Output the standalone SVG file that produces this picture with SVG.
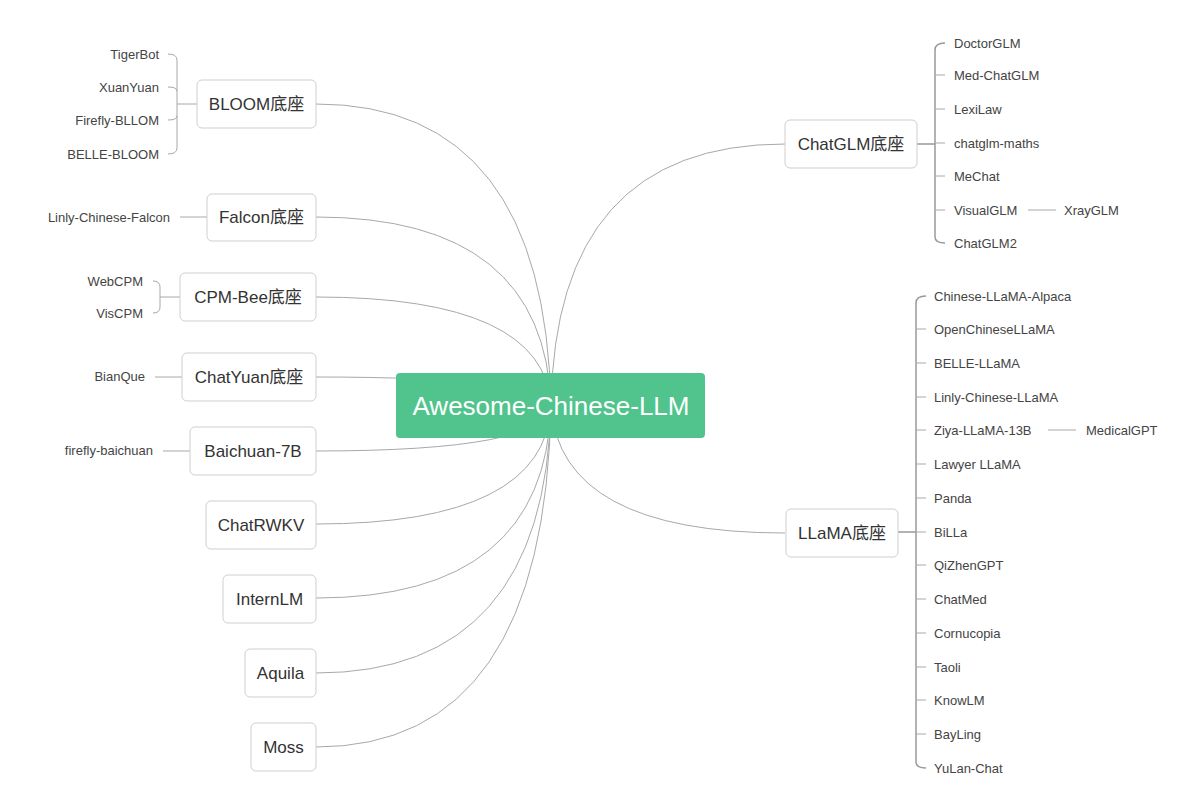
<svg xmlns="http://www.w3.org/2000/svg" width="1197" height="812" viewBox="0 0 1197 812">
<style>
.bg{fill:#ffffff}
.node rect{fill:#ffffff;stroke:#cfcfcf;stroke-width:1}
.node text{font-family:"Liberation Sans","Noto Sans CJK SC",sans-serif;font-size:17px;fill:#333333;text-anchor:middle;dominant-baseline:central}
.root rect{fill:#50c48c;stroke:none}
.root text{font-family:"Liberation Sans","Noto Sans CJK SC",sans-serif;font-size:26px;fill:#ffffff;text-anchor:middle;dominant-baseline:central}
.leaf{font-family:"Liberation Sans","Noto Sans CJK SC",sans-serif;font-size:13px;fill:#444444;dominant-baseline:central}
.r{text-anchor:end}
.c path,.c line{fill:none;stroke:#a8a8a8;stroke-width:1}
.c .dk{stroke:#999999;stroke-width:1.5}
</style>
<rect class="bg" width="1197" height="812"/>
<g id="connectors" class="c">
<path d="M316,104 Q545,104 551,406"/>
<path d="M316,217 Q545,217 551,406"/>
<path d="M316,297 Q545,297 551,406"/>
<path d="M316,377 Q545,377 551,406"/>
<path d="M316,451 Q545,451 551,406"/>
<path d="M316,524 Q545,524 551,406"/>
<path d="M316,598 Q545,598 551,406"/>
<path d="M316,673 Q545,673 551,406"/>
<path d="M316,747 Q545,747 551,406"/>
<path d="M785,144 Q555,144 551,406"/>
<path d="M785,533 Q560,533 551,406"/>
<line x1="197" y1="104" x2="177" y2="104"/>
<path d="M168,54 Q177,54 177,60 L177,148 Q177,154 168,154"/>
<path d="M168,87 Q177,87 177,91"/>
<path d="M168,120 Q177,120 177,116"/>
<line x1="180" y1="217" x2="207" y2="217"/>
<line x1="180" y1="297" x2="160" y2="297"/>
<path d="M153,281 Q160,281 160,287 L160,307 Q160,313 153,313"/>
<line x1="155" y1="377" x2="182" y2="377"/>
<line x1="163" y1="451" x2="190" y2="451"/>
<line class="dk" x1="917" y1="144" x2="935" y2="144"/>
<path class="dk" d="M945,43 Q935,43 935,50 L935,237 Q935,243 945,243"/>
<line x1="935" y1="75" x2="945" y2="75"/>
<line x1="935" y1="109" x2="945" y2="109"/>
<line x1="935" y1="143" x2="945" y2="143"/>
<line x1="935" y1="176" x2="945" y2="176"/>
<line x1="935" y1="210" x2="945" y2="210"/>
<line x1="1028" y1="210" x2="1056" y2="210"/>
<line class="dk" x1="898" y1="532" x2="916" y2="532"/>
<path class="dk" d="M926,296 Q916,296 916,303 L916,762 Q916,768 926,768"/>
<line x1="916" y1="329" x2="926" y2="329"/>
<line x1="916" y1="363" x2="926" y2="363"/>
<line x1="916" y1="397" x2="926" y2="397"/>
<line x1="916" y1="430" x2="926" y2="430"/>
<line x1="916" y1="464" x2="926" y2="464"/>
<line x1="916" y1="498" x2="926" y2="498"/>
<line x1="916" y1="532" x2="926" y2="532"/>
<line x1="916" y1="565" x2="926" y2="565"/>
<line x1="916" y1="599" x2="926" y2="599"/>
<line x1="916" y1="633" x2="926" y2="633"/>
<line x1="916" y1="667" x2="926" y2="667"/>
<line x1="916" y1="700" x2="926" y2="700"/>
<line x1="916" y1="734" x2="926" y2="734"/>
<line x1="1048" y1="430" x2="1076" y2="430"/>
</g>
<g id="root" class="root"><rect x="396" y="373" width="309" height="65" rx="4"/><text x="551" y="406">Awesome-Chinese-LLM</text></g>
<g id="n-bloom" class="node"><rect x="197" y="80" width="119" height="48" rx="5"/><text x="256.5" y="104">BLOOM底座</text></g>
<g id="n-falcon" class="node"><rect x="207" y="194" width="109" height="47" rx="5"/><text x="261.5" y="217">Falcon底座</text></g>
<g id="n-cpmbee" class="node"><rect x="180" y="273" width="136" height="48" rx="5"/><text x="248" y="297">CPM-Bee底座</text></g>
<g id="n-chatyuan" class="node"><rect x="182" y="353" width="134" height="48" rx="5"/><text x="249" y="377">ChatYuan底座</text></g>
<g id="n-baichuan" class="node"><rect x="190" y="427" width="126" height="48" rx="5"/><text x="253" y="451">Baichuan-7B</text></g>
<g id="n-chatrwkv" class="node"><rect x="206" y="501" width="110" height="48" rx="5"/><text x="261" y="525">ChatRWKV</text></g>
<g id="n-internlm" class="node"><rect x="223" y="575" width="93" height="48" rx="5"/><text x="269.5" y="599">InternLM</text></g>
<g id="n-aquila" class="node"><rect x="245" y="649" width="71" height="48" rx="5"/><text x="280.5" y="673">Aquila</text></g>
<g id="n-moss" class="node"><rect x="251" y="723" width="65" height="48" rx="5"/><text x="283.5" y="747">Moss</text></g>
<g id="n-chatglm" class="node"><rect x="785" y="120" width="132" height="48" rx="5"/><text x="851" y="144">ChatGLM底座</text></g>
<g id="n-llama" class="node"><rect x="786" y="509" width="112" height="48" rx="5"/><text x="842" y="533">LLaMA底座</text></g>
<g id="leaves-bloom">
<text class="leaf r" x="159" y="54">TigerBot</text>
<text class="leaf r" x="159" y="87">XuanYuan</text>
<text class="leaf r" x="159" y="120">Firefly-BLLOM</text>
<text class="leaf r" x="159" y="154">BELLE-BLOOM</text>
</g>
<g id="leaves-falcon"><text class="leaf r" x="170" y="217">Linly-Chinese-Falcon</text></g>
<g id="leaves-cpm">
<text class="leaf r" x="143" y="281">WebCPM</text>
<text class="leaf r" x="143" y="313">VisCPM</text>
</g>
<g id="leaves-chatyuan"><text class="leaf r" x="145" y="376">BianQue</text></g>
<g id="leaves-baichuan"><text class="leaf r" x="153" y="450">firefly-baichuan</text></g>
<g id="leaves-chatglm">
<text class="leaf" x="954" y="43">DoctorGLM</text>
<text class="leaf" x="954" y="75">Med-ChatGLM</text>
<text class="leaf" x="954" y="109">LexiLaw</text>
<text class="leaf" x="954" y="143">chatglm-maths</text>
<text class="leaf" x="954" y="176">MeChat</text>
<text class="leaf" x="954" y="210">VisualGLM</text>
<text class="leaf" x="954" y="243">ChatGLM2</text>
<text class="leaf" x="1064" y="210">XrayGLM</text>
</g>
<g id="leaves-llama">
<text class="leaf" x="934" y="296">Chinese-LLaMA-Alpaca</text>
<text class="leaf" x="934" y="329">OpenChineseLLaMA</text>
<text class="leaf" x="934" y="363">BELLE-LLaMA</text>
<text class="leaf" x="934" y="397">Linly-Chinese-LLaMA</text>
<text class="leaf" x="934" y="430">Ziya-LLaMA-13B</text>
<text class="leaf" x="934" y="464">Lawyer LLaMA</text>
<text class="leaf" x="934" y="498">Panda</text>
<text class="leaf" x="934" y="532">BiLLa</text>
<text class="leaf" x="934" y="565">QiZhenGPT</text>
<text class="leaf" x="934" y="599">ChatMed</text>
<text class="leaf" x="934" y="633">Cornucopia</text>
<text class="leaf" x="934" y="667">Taoli</text>
<text class="leaf" x="934" y="700">KnowLM</text>
<text class="leaf" x="934" y="734">BayLing</text>
<text class="leaf" x="934" y="768">YuLan-Chat</text>
<text class="leaf" x="1086" y="430">MedicalGPT</text>
</g>
</svg>
